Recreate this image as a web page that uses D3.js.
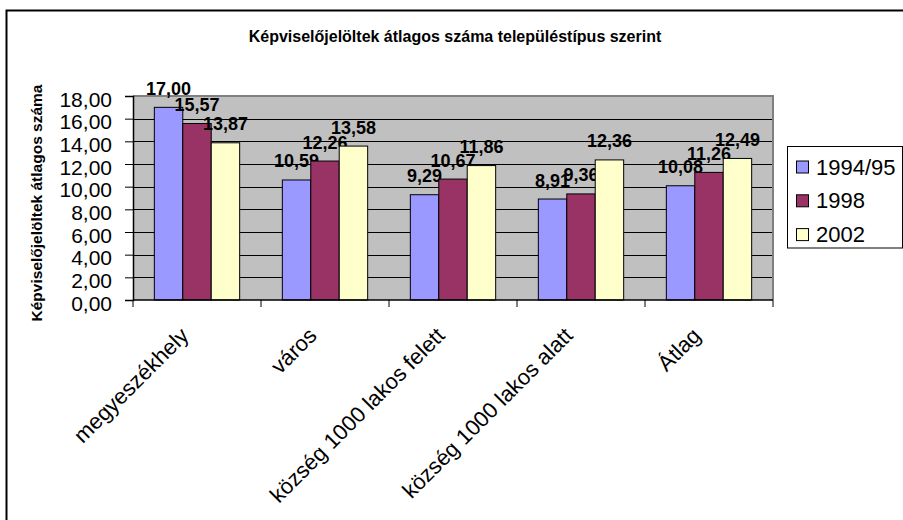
<!DOCTYPE html>
<html>
<head>
<meta charset="utf-8">
<script src="https://cdn.jsdelivr.net/npm/d3@7"></script>
<style>
  body { margin: 0; background: #fff; }
  text { font-family: "Liberation Sans", Arial, sans-serif; }
</style>
</head>
<body>
<div class="chart"></div>
<script>
// Chart data
var categories = ["megyeszékhely", "város", "község 1000 lakos felett", "község 1000 lakos alatt", "Átlag"];
var seriesNames = ["1994/95", "1998", "2002"];
var values1994 = [17.00, 10.59, 9.29, 8.91, 10.08];
var values1998 = [15.57, 12.26, 10.67, 9.36, 11.26];
var values2002 = [13.87, 13.58, 11.86, 12.36, 12.49];
var yTicks = [0, 2, 4, 6, 8, 10, 12, 14, 16, 18];
var colors = ["#9999FF", "#993366", "#FFFFCC"];

var seriesValues = [values1994, values1998, values2002];
var fmt = function(v) { return v.toFixed(2).replace(".", ","); };

var width = 903, height = 520;
var plot = {left: 133, right: 773, top: 96, bottom: 300};

var svg = d3.select(".chart")
  .append("svg")
    .attr("width", width)
    .attr("height", height);

// Outer chart border
svg.append("rect")
  .attr("x", 6.5).attr("y", 10.5)
  .attr("width", 905).attr("height", 520)
  .attr("fill", "#fff")
  .attr("stroke", "#000")
  .attr("stroke-width", 2);

// Scales
var x = d3.scaleBand()
  .domain(categories)
  .range([plot.left, plot.right]);

var x1 = d3.scaleBand()
  .domain(seriesNames)
  .range([0, x.bandwidth()])
  .paddingInner(0)
  .paddingOuter(0.75);

var y = d3.scaleLinear()
  .domain([0, 18])
  .range([plot.bottom, plot.top]);

// Plot area
svg.append("rect")
  .attr("x", plot.left).attr("y", plot.top)
  .attr("width", plot.right - plot.left)
  .attr("height", plot.bottom - plot.top)
  .attr("fill", "#C0C0C0");

// Gridlines
svg.append("g")
  .selectAll("line")
  .data(yTicks.filter(function(d) { return d > 0 && d < 18; }))
  .join("line")
    .attr("x1", plot.left).attr("x2", plot.right)
    .attr("y1", function(d) { return Math.round(y(d)) + 0.5; })
    .attr("y2", function(d) { return Math.round(y(d)) + 0.5; })
    .attr("stroke", "#000")
    .attr("stroke-width", 1);

// Plot border (top, right)
svg.append("path")
  .attr("d", "M" + plot.left + "," + plot.top + "H" + plot.right + "V" + plot.bottom)
  .attr("fill", "none")
  .attr("stroke", "#808080")
  .attr("stroke-width", 2);

// Bars
var groups = svg.append("g")
  .selectAll("g")
  .data(seriesNames)
  .join("g")
    .attr("fill", function(d, i) { return colors[i]; });

groups.selectAll("rect")
  .data(function(s, i) { return seriesValues[i].map(function(v, j) { return {s: s, cat: categories[j], v: v}; }); })
  .join("rect")
    .attr("x", function(d) { return x(d.cat) + x1(d.s); })
    .attr("y", function(d) { return y(d.v); })
    .attr("width", x1.bandwidth())
    .attr("height", function(d) { return y(0) - y(d.v); })
    .attr("stroke", "#000")
    .attr("stroke-width", 1);

// Data labels
groups.selectAll("text")
  .data(function(s, i) { return seriesValues[i].map(function(v, j) { return {s: s, cat: categories[j], v: v}; }); })
  .join("text")
    .attr("x", function(d) { return x(d.cat) + x1(d.s) + x1.bandwidth() / 2; })
    .attr("y", function(d) { return y(d.v) - 12.5; })
    .attr("text-anchor", "middle")
    .attr("fill", "#000")
    .style("font-size", "18px")
    .style("font-weight", "bold")
    .text(function(d) { return fmt(d.v); });

// Y axis
var y_axis = svg.append("g")
  .attr("transform", "translate(" + plot.left + ",0)")
  .call(d3.axisLeft(y).tickValues(yTicks).tickSize(8).tickPadding(13).tickFormat(fmt));
y_axis.select(".domain").attr("stroke", "#000").attr("stroke-width", 1.5);
y_axis.selectAll(".tick line").attr("stroke", "#000");
y_axis.selectAll(".tick text")
  .attr("dy", "10")
  .style("font-size", "21px")
  .style("font-family", "'Liberation Sans', Arial, sans-serif");

// X axis
var x_axis = svg.append("g")
  .attr("transform", "translate(0," + plot.bottom + ")");
x_axis.append("line")
  .attr("x1", plot.left).attr("x2", plot.right)
  .attr("stroke", "#000").attr("stroke-width", 1.5);
x_axis.selectAll(".tick")
  .data(d3.range(categories.length + 1))
  .join("line")
    .attr("class", "tick")
    .attr("x1", function(i) { return plot.left + i * x.step(); })
    .attr("x2", function(i) { return plot.left + i * x.step(); })
    .attr("y1", 0).attr("y2", 7)
    .attr("stroke", "#000");
x_axis.selectAll("text")
  .data(categories)
  .join("text")
    .attr("transform", function(d) { return "translate(" + (x(d) + x.bandwidth() / 2 - 7) + ",37) rotate(-45)"; })
    .attr("text-anchor", "end")
    .style("font-size", "22px")
    .text(function(d) { return d; });

// Title
svg.append("text")
  .attr("x", 455).attr("y", 42)
  .attr("text-anchor", "middle")
  .style("font-size", "16px")
  .style("font-weight", "bold")
  .text("Képviselőjelöltek átlagos száma településtípus szerint");

// Y axis title
svg.append("text")
  .attr("transform", "translate(42,203) rotate(-90)")
  .attr("text-anchor", "middle")
  .style("font-size", "15.5px")
  .style("font-weight", "bold")
  .text("Képviselőjelöltek átlagos száma");

// Legend
var legend = svg.append("g");
legend.append("rect")
  .attr("x", 787.5).attr("y", 146.5)
  .attr("width", 115).attr("height", 101.5)
  .attr("fill", "#fff")
  .attr("stroke", "#000");
var items = legend.selectAll("g.item")
  .data(seriesNames)
  .join("g")
    .attr("class", "item")
    .attr("transform", function(d, i) { return "translate(796," + (167 + i * 33.8) + ")"; });
items.append("rect")
  .attr("x", 0.5).attr("y", -6)
  .attr("width", 12).attr("height", 12)
  .attr("fill", function(d, i) { return colors[i]; })
  .attr("stroke", "#000");
items.append("text")
  .attr("x", 20).attr("y", 7.5)
  .style("font-size", "22px")
  .text(function(d) { return d; });
</script>
</body>
</html>
